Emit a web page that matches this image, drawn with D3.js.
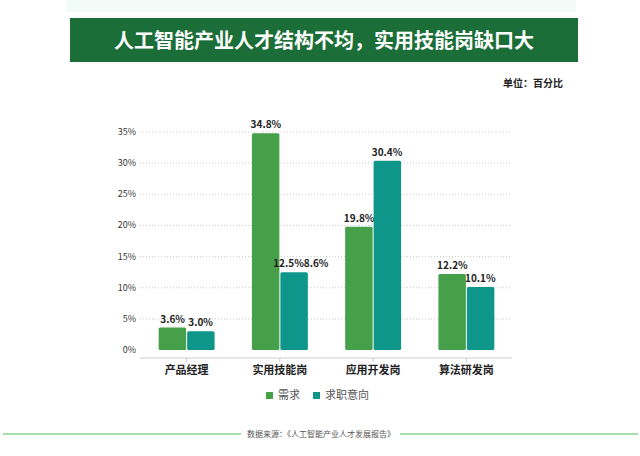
<!DOCTYPE html>
<html><head><meta charset="utf-8">
<script src="https://cdn.jsdelivr.net/npm/d3@7"></script>
<style>
  body { margin: 0; background: #fff; }
  svg { font-family: "Noto Sans CJK SC", "Noto Sans", sans-serif; }
</style></head>
<body><svg id="chart" width="640" height="456"></svg>
<script>
'use strict';
const categories = ['产品经理', '实用技能岗', '应用开发岗', '算法研发岗'];
const seriesNames = ['需求', '求职意向'];
const demand = [3.6, 34.8, 19.8, 12.2];
const intent = [3.0, 12.5, 30.4, 10.1];
const intentLabels = ['3.0%', '12.5%8.6%', '30.4%', '10.1%'];
const yTicks = [0, 5, 10, 15, 20, 25, 30, 35];
const colors = ['#46a04a', '#0e968a'];

const svg = d3.select('#chart');

// ── Header ──
svg.append('rect').attr('x', 66).attr('y', 0).attr('width', 510).attr('height', 12).attr('fill', '#f2fbf7');
svg.append('rect').attr('x', 70).attr('y', 18).attr('width', 508).attr('height', 44).attr('fill', '#1b6e37');
svg.append('text').attr('x', 324).attr('y', 48).attr('text-anchor', 'middle')
  .attr('fill', '#fff').attr('font-size', 20).attr('font-weight', 'bold')
  .text('人工智能产业人才结构不均，实用技能岗缺口大');
svg.append('text').attr('x', 563).attr('y', 87).attr('text-anchor', 'end')
  .attr('font-size', 10).attr('font-weight', 'bold').attr('fill', '#222').text('单位：百分比');

// ── Scales ──
const x = d3.scaleBand().domain(categories).range([140, 513]).paddingInner(0.4).paddingOuter(0.2);
const y = d3.scaleLinear().domain([0, 35]).range([350, 132]);
const bw = x.bandwidth() / 2;

// grid + y labels
svg.append('g').selectAll('line').data(yTicks.slice(1)).join('line')
  .attr('x1', 140).attr('x2', 512).attr('y1', d => y(d)).attr('y2', d => y(d))
  .attr('stroke', '#ccc').attr('stroke-dasharray', '1,2');
svg.append('g').selectAll('text').data(yTicks).join('text')
  .attr('x', 136).attr('y', d => y(d) + 3).attr('text-anchor', 'end')
  .attr('font-size', 9).attr('fill', '#333').text(d => d + '%');
svg.append('line').attr('x1', 140).attr('x2', 512).attr('y1', 358).attr('y2', 358).attr('stroke', '#ccc');
svg.append('g').selectAll('line').data(categories).join('line')
  .attr('x1', d => x(d) + bw).attr('x2', d => x(d) + bw).attr('y1', 358).attr('y2', 362).attr('stroke', '#ccc');

// bars
[demand, intent].forEach((vals, s) => {
  const g = svg.append('g');
  g.selectAll('rect').data(vals).join('rect')
    .attr('x', (d, i) => x(categories[i]) + s * bw + (s ? 0.5 : 0))
    .attr('y', d => y(d)).attr('width', bw - 0.5).attr('height', d => y(0) - y(d))
    .attr('rx', 1.5).attr('fill', colors[s]);
  g.selectAll('text').data(vals).join('text')
    .attr('x', (d, i) => x(categories[i]) + s * bw + bw / 2 + (s && i === 1 ? 7 : 0))
    .attr('y', d => y(d) - 5).attr('text-anchor', 'middle')
    .attr('font-size', 10).attr('font-weight', 'bold').attr('fill', '#222')
    .text((d, i) => s ? intentLabels[i] : d.toFixed(1) + '%');
});

// category labels
svg.append('g').selectAll('text').data(categories).join('text')
  .attr('x', d => x(d) + bw).attr('y', 374).attr('text-anchor', 'middle')
  .attr('font-size', 11).attr('font-weight', 'bold').attr('fill', '#222').text(d => d);

// legend
const lg = svg.append('g');
[[266, 278], [313, 325]].forEach(([sx, tx], i) => {
  lg.append('rect').attr('x', sx).attr('y', 392).attr('width', 7).attr('height', 7).attr('fill', colors[i]);
  lg.append('text').attr('x', tx).attr('y', 399).attr('font-size', 11).attr('fill', '#555').text(seriesNames[i]);
});

// footer
svg.append('line').attr('x1', 3).attr('x2', 241).attr('y1', 434).attr('y2', 434).attr('stroke', '#4cbf5a').attr('stroke-width', 1.2);
svg.append('line').attr('x1', 400).attr('x2', 638).attr('y1', 434).attr('y2', 434).attr('stroke', '#4cbf5a').attr('stroke-width', 1.2);
svg.append('text').attr('x', 321).attr('y', 437).attr('text-anchor', 'middle')
  .attr('font-size', 8).attr('fill', '#555').text('数据来源：《人工智能产业人才发展报告》');
</script></body></html>
